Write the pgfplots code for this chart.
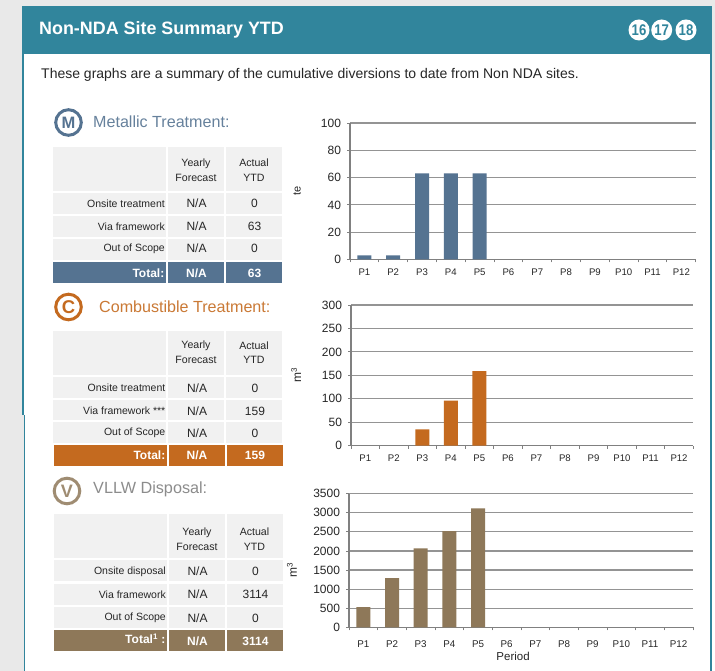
\documentclass[border=0pt]{standalone}
\usepackage{pgfplots}
\pgfplotsset{compat=1.18}
\usepackage{fontspec}
\setmainfont{Liberation Sans}
\definecolor{teal1}{HTML}{31859C}
\definecolor{pagebg}{HTML}{E9E9E9}
\definecolor{cellbg}{HTML}{F1F1F1}
\definecolor{metal}{HTML}{557391}
\definecolor{comb}{HTML}{C46A1F}
\definecolor{vllw}{HTML}{8E7859}
\definecolor{txt}{HTML}{262626}
\newcommand\fs[1]{\fontsize{#1}{#1}\selectfont}
\pgfplotsset{
  mychart/.style={
    scale only axis, anchor=origin,
    xmin=0.5, xmax=12.5, ymin=0,
    axis x line=bottom, axis y line=left,
    axis line style={-,color=black!50,line width=1.3pt},
    ymajorgrids, grid style={color=black!42,line width=1.1pt},
    xtick={1,...,12},
    xticklabels={P1,P2,P3,P4,P5,P6,P7,P8,P9,P10,P11,P12},
    minor xtick={0.5,1.5,...,12.5},
    major tick length=3pt, minor tick length=3pt,
    tick align=outside,
    tick style={color=black!50,line width=0.9pt},
    xtick style={draw=none},
    minor x tick style={draw=black!50,line width=0.9pt},
    x tick label style={font=\fs{9.6},text=txt,yshift=-2.5pt},
    y tick label style={font=\fs{12},text=txt,xshift=-2.5pt},
    /pgf/number format/assume math mode=true,
    /pgf/number format/1000 sep={},
    scaled y ticks=false,
    ybar, bar width=14pt,
  }
}
\begin{document}
\begin{tikzpicture}
\path[use as bounding box] (0,0) rectangle (715pt,671pt);
\begin{scope}[x=1pt,y=-1pt,yshift=671pt]
  \fill[pagebg] (0,0) rectangle (715,671);
  \fill[white] (24,54) rectangle (710,671);
  \fill[white] (712,150) rectangle (715,671);
  % header and side rules
  \fill[teal1] (22,6) rectangle (712,54);
  \fill[teal1] (22,54) rectangle (24,415);
  \fill[teal1] (23.5,415) rectangle (25,671);
  \fill[teal1] (710,54) rectangle (712,671);
  \node[anchor=west,text=white,font=\fs{17.9}\bfseries,inner sep=0pt] at (39,30) {Non-NDA Site Summary YTD};
  \foreach \cx/\lab in {639/16,661.7/17,686/18}{
    \fill[white] (\cx,30) circle (10.5);
    \node[text=teal1,font=\fs{15.5}\bfseries,inner sep=0pt,xscale=0.85] at (\cx,30) {\lab};
  }
  \node[anchor=west,text=txt,font=\fs{14},inner sep=0pt] at (41,75) {These graphs are a summary of the cumulative diversions to date from Non NDA sites.};
  % section heads
  \draw[metal,line width=3pt] (68.5,122.5) circle (12.8);
  \node[text=metal,font=\fs{16.5}\bfseries,inner sep=0pt] at (68.5,122.5) {M};
  \node[anchor=west,text=metal!90!white,font=\fs{16.1},inner sep=0pt] at (93,121.5) {Metallic Treatment:};
  \draw[comb,line width=3pt] (68.5,307) circle (12.8);
  \node[text=comb,font=\fs{18.5}\bfseries,inner sep=0pt] at (68.5,307) {C};
  \node[anchor=west,text=comb!90!white,font=\fs{16.1},inner sep=0pt] at (99,306.5) {Combustible Treatment:};
  \draw[vllw!85!white,line width=3pt] (67,491) circle (12.8);
  \node[text=vllw!85!white,font=\fs{18}\bfseries,inner sep=0pt] at (67,491) {V};
  \node[anchor=west,text=black!45,font=\fs{16.2},inner sep=0pt] at (93,489.5) {VLLW Disposal:};
  % Table 1
  \foreach \a/\b in {147/191,193/213.7,216/237,239/260}
    \foreach \l/\r in {53/166,168/224,226/282} \fill[cellbg] (\l,\a) rectangle (\r,\b);
  \foreach \l/\r in {53/166,168/224,226/282} \fill[metal] (\l,262) rectangle (\r,283);
  \node[align=center,text=txt,font=\fs{10.6},inner sep=0pt] at (196,170) {Yearly\\[4pt]Forecast};
  \node[align=center,text=txt,font=\fs{10.6},inner sep=0pt] at (254,170) {Actual\\[4pt]YTD};
  \foreach \yy/\lab/\val in {203.5/Onsite treatment/0,226.5/Via framework/63,248.5/Out of Scope/0}{
    \node[anchor=east,text=txt,font=\fs{10.5},inner sep=0pt] at (165,\yy) {\lab};
    \node[text=txt,font=\fs{12},inner sep=0pt] at (196.5,\yy) {N/A};
    \node[text=txt,font=\fs{12},inner sep=0pt] at (254.5,\yy) {\val};
  }
  \node[anchor=east,text=white,font=\fs{12}\bfseries,inner sep=0pt] at (164.5,273) {Total:};
  \node[text=white,font=\fs{12}\bfseries,inner sep=0pt] at (196.5,273) {N/A};
  \node[text=white,font=\fs{12}\bfseries,inner sep=0pt] at (254.5,273) {63};
  % Table 2
  \foreach \a/\b in {331/375,377/398,400/420,422/443}
    \foreach \l/\r in {53/166,168/224,226/282} \fill[cellbg] (\l,\a) rectangle (\r,\b);
  \foreach \l/\r in {53.5/167,169/225,227/283} \fill[comb] (\l,445) rectangle (\r,466);
  \node[align=center,text=txt,font=\fs{10.6},inner sep=0pt] at (196,352.5) {Yearly\\[4pt]Forecast};
  \node[align=center,text=txt,font=\fs{10.6},inner sep=0pt] at (254,352.5) {Actual\\[4pt]YTD};
  \foreach \yy/\lab/\val in {388/Onsite treatment/0,411/Via framework ***/159,433/Out of Scope/0}{
    \node[anchor=east,text=txt,font=\fs{10.5},inner sep=0pt] at (165.5,\yy) {\lab};
    \node[text=txt,font=\fs{12},inner sep=0pt] at (197,\yy) {N/A};
    \node[text=txt,font=\fs{12},inner sep=0pt] at (255,\yy) {\val};
  }
  \node[anchor=east,text=white,font=\fs{12}\bfseries,inner sep=0pt] at (165.5,455.5) {Total:};
  \node[text=white,font=\fs{12}\bfseries,inner sep=0pt] at (197,455.5) {N/A};
  \node[text=white,font=\fs{12}\bfseries,inner sep=0pt] at (255,455.5) {159};
  % Table 3
  \foreach \a/\b in {514/558.3,560/581,583.7/605,607/628}
    \foreach \l/\r in {53.5/167,169/225,227/283} \fill[cellbg] (\l,\a) rectangle (\r,\b);
  \foreach \l/\r in {53.5/167,169/225,227/283} \fill[vllw] (\l,630) rectangle (\r,651);
  \node[align=center,text=txt,font=\fs{10.6},inner sep=0pt] at (197,539) {Yearly\\[4pt]Forecast};
  \node[align=center,text=txt,font=\fs{10.6},inner sep=0pt] at (254.5,539) {Actual\\[4pt]YTD};
  \foreach \yy/\lab/\val in {571.5/Onsite disposal/0,594.5/Via framework/3114,618/Out of Scope/0}{
    \node[anchor=east,text=txt,font=\fs{10.5},inner sep=0pt] at (166,\yy) {\lab};
    \node[text=txt,font=\fs{12},inner sep=0pt] at (197.5,\yy) {N/A};
    \node[text=txt,font=\fs{12},inner sep=0pt] at (255.5,\yy) {\val};
  }
  \node[anchor=east,text=white,font=\fs{12}\bfseries,inner sep=0pt] at (165.5,638.5) {Total\textsuperscript{1} :};
  \node[text=white,font=\fs{12}\bfseries,inner sep=0pt] at (197.5,641) {N/A};
  \node[text=white,font=\fs{12}\bfseries,inner sep=0pt] at (255.5,641) {3114};
\end{scope}
% Chart 1
\begin{axis}[mychart, at={(350pt,411.5pt)}, width=345.7pt, height=136.5pt,
  ymax=100, ytick={0,20,...,100},
  ylabel={te}, y label style={at={(axis description cs:-0.153,0.5)},anchor=center,font=\fs{11},text=txt}]
\addplot[fill=metal,draw=none] coordinates {(1,3)(2,3)(3,63)(4,63)(5,63)};
\end{axis}
% Chart 2
\begin{axis}[mychart, at={(351pt,225.3pt)}, width=342.3pt, height=140.7pt,
  ymax=300, ytick={0,50,...,300},
  ylabel={m\textsuperscript{3}}, y label style={at={(axis description cs:-0.16,0.5)},anchor=center,font=\fs{12},text=txt}]
\addplot[fill=comb,draw=none] coordinates {(3,35)(4,96)(5,159)};
\end{axis}
% Chart 3
\begin{axis}[mychart, at={(349pt,43.7pt)}, width=344pt, height=133.6pt,
  ymax=3500, ytick={0,500,...,3500},
  x tick label style={font=\fs{9.8},text=txt,yshift=-4pt},
  xlabel={Period}, x label style={at={(axis description cs:0.477,-0.215)},anchor=center,font=\fs{11.5},text=txt},
  ylabel={m\textsuperscript{3}}, y label style={at={(axis description cs:-0.166,0.43)},anchor=center,font=\fs{12},text=txt}]
\addplot[fill=vllw,draw=none] coordinates {(1,530)(2,1290)(3,2070)(4,2520)(5,3114)};
\end{axis}
\end{tikzpicture}
\end{document}
